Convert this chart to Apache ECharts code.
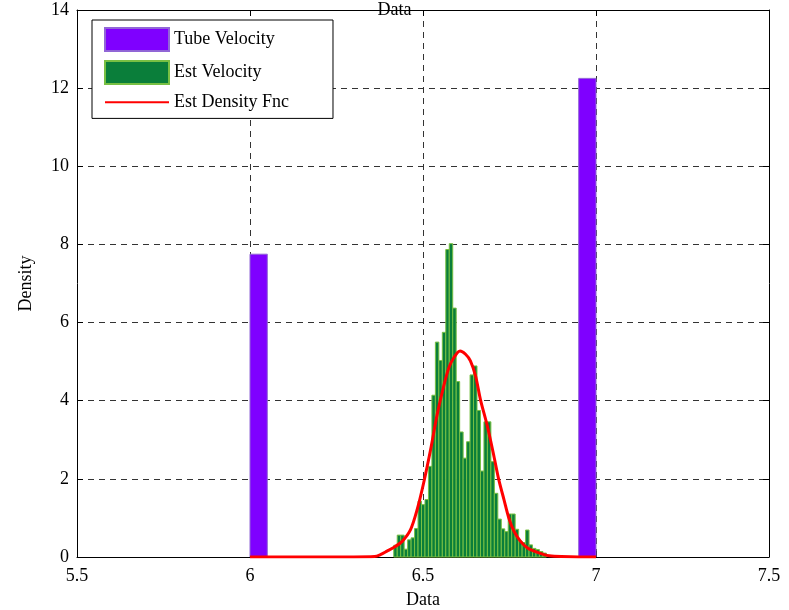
<!DOCTYPE html>
<html>
<head>
<meta charset="utf-8">
<script src="https://cdn.jsdelivr.net/npm/echarts@6/dist/echarts.min.js"></script>
<style>
  html, body { margin: 0; padding: 0; background: #ffffff; }
  #chart { width: 789px; height: 610px; }
</style>
</head>
<body>
<div id="chart"></div>
<script>
// Tube velocity histogram: two bins (left edge, width, density)
const tubeLeft = [6.0, 6.95];
const tubeWidth = 0.05;
const tubeDensity = [7.75, 12.25];

// Estimated velocity histogram: 44 equal bins between these edges
const estStart = 6.4155;
const estEnd = 6.8566;
const estDensity = [
  0.30, 0.56, 0.56, 0.20, 0.44, 0.49, 0.73, 1.43, 1.34, 1.47,
  2.32, 4.14, 5.50, 5.03, 5.75, 7.87, 8.02, 6.37, 4.49, 3.20,
  2.53, 2.95, 4.66, 4.89, 3.75, 2.20, 3.46, 3.46, 2.44, 1.63,
  0.97, 0.72, 0.65, 1.10, 1.10, 0.71, 0.41, 0.37, 0.69, 0.31,
  0.22, 0.19, 0.14, 0.10
];

// Estimated density function (kernel estimate)
const densityX = [6.00, 6.10, 6.20, 6.30, 6.36, 6.377, 6.396, 6.42, 6.44, 6.464,
  6.483, 6.502, 6.522, 6.541, 6.560, 6.575, 6.589, 6.607, 6.623, 6.637,
  6.652, 6.666, 6.686, 6.705, 6.719, 6.734, 6.748, 6.763, 6.782, 6.802,
  6.821, 6.850, 6.865, 6.90, 6.95, 7.00];
const densityY = [0, 0, 0, 0, 0.01, 0.06, 0.15, 0.27, 0.40, 0.70,
  1.21, 1.90, 2.75, 3.65, 4.38, 4.85, 5.10, 5.27, 5.19, 5.02,
  4.63, 4.03, 3.35, 2.58, 1.98, 1.47, 1.00, 0.66, 0.40, 0.23,
  0.15, 0.06, 0.03, 0.01, 0, 0];

const purple = '#7f00ff';
const purpleEdge = '#9166d6';
const green = '#0a7e3a';
const greenEdge = '#78c043';
const serif = 'Liberation Serif';

const tubeData = tubeLeft.map((x, i) => [x, x + tubeWidth, tubeDensity[i]]);
const estBin = (estEnd - estStart) / estDensity.length;
const estData = estDensity.map((h, i) => [estStart + i * estBin, estStart + (i + 1) * estBin, h]);
const densityData = densityX.map((x, i) => [x, densityY[i]]);

function histRect(fill, edge) {
  return function (params, api) {
    const topLeft = api.coord([api.value(0), api.value(2)]);
    const bottomRight = api.coord([api.value(1), 0]);
    return {
      type: 'rect',
      shape: {
        x: topLeft[0],
        y: topLeft[1],
        width: bottomRight[0] - topLeft[0],
        height: bottomRight[1] - topLeft[1]
      },
      style: { fill: fill, stroke: edge, lineWidth: 1 }
    };
  };
}

const chart = echarts.init(document.getElementById('chart'), null, { renderer: 'canvas' });

const gridSplit = { show: true, lineStyle: { color: '#333', type: [6, 5], width: 1 } };
const frameLine = { show: true, onZero: false, lineStyle: { color: '#000', width: 1 } };
const innerTick = { show: true, inside: true, length: 6, lineStyle: { color: '#000' } };

chart.setOption({
  animation: false,
  backgroundColor: '#ffffff',
  title: {
    text: 'Data',
    left: 'center',
    top: -4,
    textStyle: { fontFamily: serif, fontSize: 18, fontWeight: 'normal', color: '#000' }
  },
  grid: { left: 77, top: 10, right: 20, bottom: 53, outerBoundsMode: 'none' },
  legend: {
    orient: 'vertical',
    left: 92,
    top: 20,
    itemWidth: 64,
    itemHeight: 23,
    itemGap: 8,
    padding: [7, 44, 7, 12],
    backgroundColor: '#ffffff',
    borderColor: '#000',
    borderWidth: 1,
    borderRadius: 0,
    textStyle: { fontFamily: serif, fontSize: 18, color: '#000' },
    data: [
      { name: 'Tube Velocity', icon: 'rect' },
      { name: 'Est Velocity', icon: 'rect' },
      { name: 'Est Density Fnc', itemStyle: { opacity: 0 } }
    ]
  },
  xAxis: [
    {
      type: 'value', min: 5.5, max: 7.5, interval: 0.5,
      name: 'Data', nameLocation: 'middle', nameGap: 34,
      nameTextStyle: { fontFamily: serif, fontSize: 18, color: '#000' },
      axisLine: frameLine, axisTick: innerTick,
      axisLabel: { fontFamily: serif, fontSize: 18, color: '#000', margin: 10 },
      splitLine: gridSplit
    },
    {
      type: 'value', position: 'top', min: 5.5, max: 7.5, interval: 0.5,
      axisLine: frameLine, axisTick: innerTick,
      axisLabel: { show: false }, splitLine: { show: false }
    }
  ],
  yAxis: [
    {
      type: 'value', min: 0, max: 14, interval: 2,
      name: 'Density', nameLocation: 'middle', nameGap: 42,
      nameTextStyle: { fontFamily: serif, fontSize: 18, color: '#000' },
      axisLine: frameLine, axisTick: innerTick,
      axisLabel: { fontFamily: serif, fontSize: 18, color: '#000', margin: 8 },
      splitLine: gridSplit
    },
    {
      type: 'value', position: 'right', min: 0, max: 14, interval: 2,
      axisLine: frameLine, axisTick: innerTick,
      axisLabel: { show: false }, splitLine: { show: false }
    }
  ],
  series: [
    {
      name: 'Tube Velocity',
      type: 'custom',
      renderItem: histRect(purple, purpleEdge),
      itemStyle: { color: purple, borderColor: purpleEdge, borderWidth: 1 },
      encode: { x: [0, 1], y: 2 },
      data: tubeData,
      z: 2
    },
    {
      name: 'Est Velocity',
      type: 'custom',
      renderItem: histRect(green, greenEdge),
      itemStyle: { color: green, borderColor: greenEdge, borderWidth: 1 },
      encode: { x: [0, 1], y: 2 },
      data: estData,
      z: 3
    },
    {
      name: 'Est Density Fnc',
      type: 'line',
      data: densityData,
      smooth: 0.3,
      symbol: 'none',
      showSymbol: false,
      lineStyle: { color: '#ff0000', width: 3 },
      itemStyle: { color: '#ff0000' },
      z: 4
    }
  ]
});
</script>
</body>
</html>
